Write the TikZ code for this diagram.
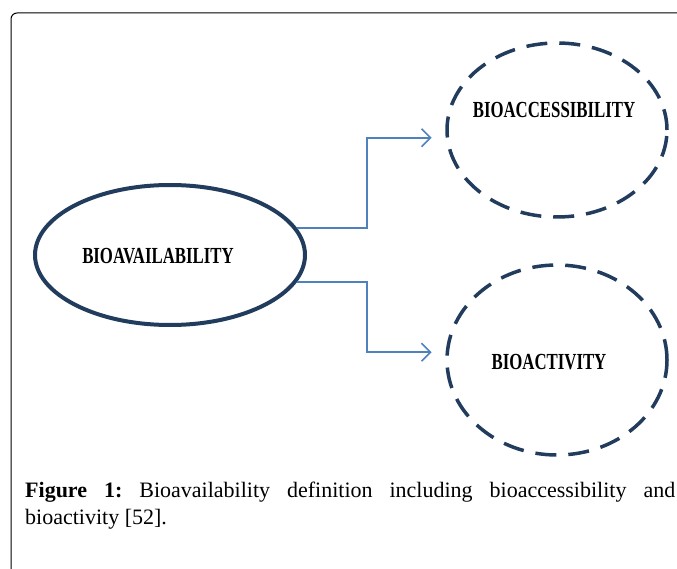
\documentclass[tikz,border=0pt]{standalone}
\usepackage{fontspec}
\setmainfont{Liberation Serif}
\usetikzlibrary{shapes.geometric,arrows.meta}

\definecolor{navy}{HTML}{213C5C}
\definecolor{linkblue}{HTML}{4F81BD}
\tikzset{
  solidoval/.style={ellipse,draw=navy,line width=4pt,inner sep=0pt},
  dashoval/.style={ellipse,draw=navy,line width=3.5pt,inner sep=0pt,
    dash pattern=on 21pt off 12pt},
  label/.style={font=\fontsize{23}{23}\selectfont\bfseries},
  link/.style={draw=linkblue,line width=1.6pt,
    -{Straight Barb[length=9pt,width=18pt]},shorten >=14pt}
}

\begin{document}
\frenchspacing
\begin{tikzpicture}[x=1pt,y=-1pt]
  \useasboundingbox (0,0) rectangle (677,569);
  % frame
  \draw[line width=1pt,rounded corners=6pt] (11,575) -- (11,13) -- (690,13);

  \node[solidoval,minimum width=270pt,minimum height=140pt] (avail) at (170,255) {};
  \node[dashoval,minimum width=220pt,minimum height=174pt] (access) at (557,130) {};
  \node[dashoval,minimum width=220pt,minimum height=190pt] (activ) at (557,360) {};

  \node[label] (availtext) at (158,256) {\scalebox{0.73}[1]{BIOAVAILABILITY}};
  \node[label] (accesstext) at (554,110) {\scalebox{0.73}[1]{BIOACCESSIBILITY}};
  \node[label] (activtext) at (549,362) {\scalebox{0.73}[1]{BIOACTIVITY}};

  \coordinate (split) at (367,255);
  \draw[link] (avail.12) -- (avail.12 -| split) |- (access.184);
  \draw[link] (avail.-12) -- (avail.-12 -| split) |- (activ.176);

  \node[anchor=north west,inner sep=0pt,text width=650pt,align=justify,
    font=\fontsize{22}{27}\selectfont] (caption) at (25,482)
    {\textbf{Figure 1:} Bioavailability definition including bioaccessibility and\linebreak
     bioactivity [52].};
\end{tikzpicture}
\end{document}
